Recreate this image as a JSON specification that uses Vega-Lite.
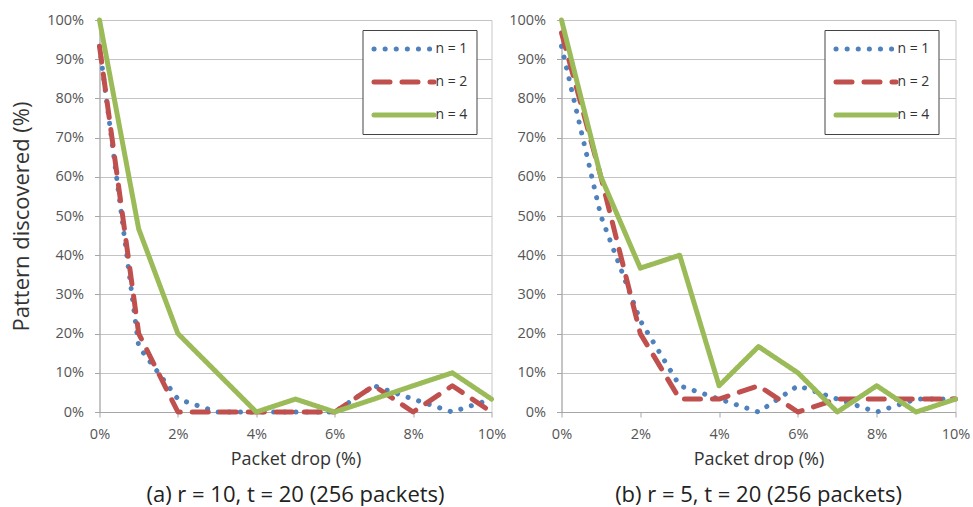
{
  "$schema": "https://vega.github.io/schema/vega-lite/v6.json",
  "background": "white",
  "padding": {"left": 9.5, "top": 11, "right": 3, "bottom": 0},
  "bounds": "flush",
  "spacing": 70,
  "datasets": {
    "a": [
      {"n": "n = 1", "drop": 0, "pct": 93.3}, {"n": "n = 1", "drop": 1, "pct": 16.7}, {"n": "n = 1", "drop": 2, "pct": 3.3}, {"n": "n = 1", "drop": 3, "pct": 0}, {"n": "n = 1", "drop": 4, "pct": 0}, {"n": "n = 1", "drop": 5, "pct": 0}, {"n": "n = 1", "drop": 6, "pct": 0}, {"n": "n = 1", "drop": 7, "pct": 6.7}, {"n": "n = 1", "drop": 8, "pct": 3.3}, {"n": "n = 1", "drop": 9, "pct": 0}, {"n": "n = 1", "drop": 10, "pct": 3.3},
      {"n": "n = 2", "drop": 0, "pct": 93.3}, {"n": "n = 2", "drop": 1, "pct": 20}, {"n": "n = 2", "drop": 2, "pct": 0}, {"n": "n = 2", "drop": 3, "pct": 0}, {"n": "n = 2", "drop": 4, "pct": 0}, {"n": "n = 2", "drop": 5, "pct": 0}, {"n": "n = 2", "drop": 6, "pct": 0}, {"n": "n = 2", "drop": 7, "pct": 6.7}, {"n": "n = 2", "drop": 8, "pct": 0}, {"n": "n = 2", "drop": 9, "pct": 6.7}, {"n": "n = 2", "drop": 10, "pct": 0},
      {"n": "n = 4", "drop": 0, "pct": 100}, {"n": "n = 4", "drop": 1, "pct": 46.7}, {"n": "n = 4", "drop": 2, "pct": 20}, {"n": "n = 4", "drop": 3, "pct": 10}, {"n": "n = 4", "drop": 4, "pct": 0}, {"n": "n = 4", "drop": 5, "pct": 3.3}, {"n": "n = 4", "drop": 6, "pct": 0}, {"n": "n = 4", "drop": 7, "pct": 3.3}, {"n": "n = 4", "drop": 8, "pct": 6.7}, {"n": "n = 4", "drop": 9, "pct": 10}, {"n": "n = 4", "drop": 10, "pct": 3.3}
    ],
    "b": [
      {"n": "n = 1", "drop": 0, "pct": 93.3}, {"n": "n = 1", "drop": 1, "pct": 50}, {"n": "n = 1", "drop": 2, "pct": 23.3}, {"n": "n = 1", "drop": 3, "pct": 6.7}, {"n": "n = 1", "drop": 4, "pct": 3.3}, {"n": "n = 1", "drop": 5, "pct": 0}, {"n": "n = 1", "drop": 6, "pct": 6.7}, {"n": "n = 1", "drop": 7, "pct": 3.3}, {"n": "n = 1", "drop": 8, "pct": 0}, {"n": "n = 1", "drop": 9, "pct": 3.3}, {"n": "n = 1", "drop": 10, "pct": 3.3},
      {"n": "n = 2", "drop": 0, "pct": 96.7}, {"n": "n = 2", "drop": 1, "pct": 60}, {"n": "n = 2", "drop": 2, "pct": 20}, {"n": "n = 2", "drop": 3, "pct": 3.3}, {"n": "n = 2", "drop": 4, "pct": 3.3}, {"n": "n = 2", "drop": 5, "pct": 6.7}, {"n": "n = 2", "drop": 6, "pct": 0}, {"n": "n = 2", "drop": 7, "pct": 3.3}, {"n": "n = 2", "drop": 8, "pct": 3.3}, {"n": "n = 2", "drop": 9, "pct": 3.3}, {"n": "n = 2", "drop": 10, "pct": 3.3},
      {"n": "n = 4", "drop": 0, "pct": 100}, {"n": "n = 4", "drop": 1, "pct": 60}, {"n": "n = 4", "drop": 2, "pct": 36.7}, {"n": "n = 4", "drop": 3, "pct": 40}, {"n": "n = 4", "drop": 4, "pct": 6.7}, {"n": "n = 4", "drop": 5, "pct": 16.7}, {"n": "n = 4", "drop": 6, "pct": 10}, {"n": "n = 4", "drop": 7, "pct": 0}, {"n": "n = 4", "drop": 8, "pct": 6.7}, {"n": "n = 4", "drop": 9, "pct": 0}, {"n": "n = 4", "drop": 10, "pct": 3.3}
    ]
  },
  "config": {
    "font": "Open Sans",
    "view": {"stroke": "#c8c8c8", "strokeWidth": 1},
    "axis": {
      "gridColor": "#c4c4c4",
      "domainColor": "#a6a6a6",
      "tickColor": "#a6a6a6",
      "labelColor": "#555555",
      "labelFontSize": 14.5,
      "labelFlush": false,
      "titleFontWeight": "normal",
      "titleColor": "#333333",
      "tickSize": 5
    },
    "legend": {
      "orient": "none",
      "legendX": 263,
      "legendY": 10,
      "fillColor": "white",
      "strokeColor": "#444444",
      "padding": 9,
      "labelFontSize": 14,
      "labelColor": "#333333",
      "symbolType": "M-1,0L7,0",
      "symbolSize": 225,
      "symbolStrokeWidth": 5,
      "labelOffset": 44,
      "rowPadding": 13
    },
    "title": {"fontSize": 22, "fontWeight": "normal", "color": "#222222", "orient": "bottom", "offset": 16}
  },
  "resolve": {
    "scale": {"color": "independent", "strokeDash": "independent"},
    "legend": {"color": "independent", "strokeDash": "independent"}
  },
  "hconcat": [
    {
      "data": {"name": "a"},
      "width": 392,
      "height": 392,
      "title": {"text": "(a) r = 10, t = 20 (256 packets)"},
      "mark": {"type": "line", "strokeWidth": 5, "strokeCap": "round", "strokeJoin": "round"},
      "encoding": {
        "x": {"field": "drop", "type": "quantitative", "scale": {"domain": [0, 10], "nice": false},
          "axis": {"values": [0, 2, 4, 6, 8, 10], "labelExpr": "datum.value + '%'", "grid": false, "title": "Packet drop (%)", "titleFontSize": 18, "labelPadding": 10, "titlePadding": 10}},
        "y": {"field": "pct", "type": "quantitative", "scale": {"domain": [0, 100], "nice": false},
          "axis": {"values": [0, 10, 20, 30, 40, 50, 60, 70, 80, 90, 100], "labelExpr": "datum.value + '%'", "title": "Pattern discovered (%)", "titleFontSize": 22, "labelPadding": 11, "titlePadding": 13}},
        "color": {"field": "n", "type": "nominal", "scale": {"domain": ["n = 1", "n = 2", "n = 4"], "range": ["#4f81bd", "#c0504d", "#9bbb59"]},
          "legend": {"title": null, "encode": {"symbols": {"update": {"strokeCap": {"value": "round"}}}}}},
        "strokeDash": {"field": "n", "type": "nominal", "scale": {"domain": ["n = 1", "n = 2", "n = 4"], "range": [[0.1, 11], [16, 12], [1, 0]]}, "legend": {"title": null}}
      }
    },
    {
      "data": {"name": "b"},
      "width": 394,
      "height": 392,
      "title": {"text": "(b) r = 5, t = 20 (256 packets)"},
      "mark": {"type": "line", "strokeWidth": 5, "strokeCap": "round", "strokeJoin": "round"},
      "encoding": {
        "x": {"field": "drop", "type": "quantitative", "scale": {"domain": [0, 10], "nice": false},
          "axis": {"values": [0, 2, 4, 6, 8, 10], "labelExpr": "datum.value + '%'", "grid": false, "title": "Packet drop (%)", "titleFontSize": 18, "labelPadding": 10, "titlePadding": 10}},
        "y": {"field": "pct", "type": "quantitative", "scale": {"domain": [0, 100], "nice": false},
          "axis": {"values": [0, 10, 20, 30, 40, 50, 60, 70, 80, 90, 100], "labelExpr": "datum.value + '%'", "title": null, "labelPadding": 11}},
        "color": {"field": "n", "type": "nominal", "scale": {"domain": ["n = 1", "n = 2", "n = 4"], "range": ["#4f81bd", "#c0504d", "#9bbb59"]},
          "legend": {"title": null, "encode": {"symbols": {"update": {"strokeCap": {"value": "round"}}}}}},
        "strokeDash": {"field": "n", "type": "nominal", "scale": {"domain": ["n = 1", "n = 2", "n = 4"], "range": [[0.1, 11], [16, 12], [1, 0]]}, "legend": {"title": null}}
      }
    }
  ]
}
